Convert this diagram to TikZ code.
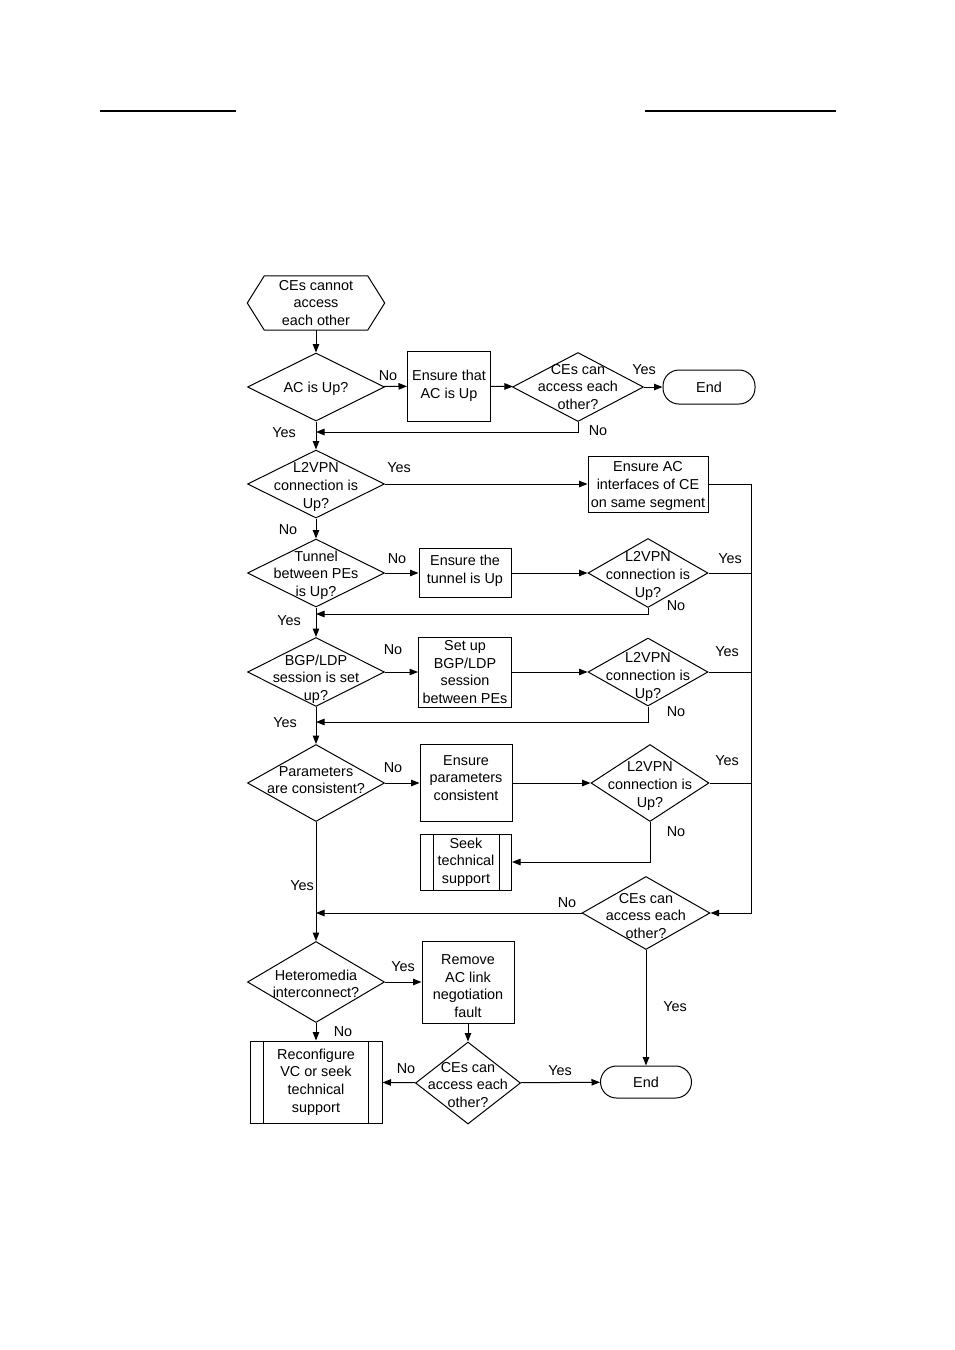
\documentclass[tikz,border=0pt]{standalone}
\usepackage{fontspec}
\setmainfont{Liberation Sans}
\usetikzlibrary{shapes.geometric,arrows.meta}

\begin{document}
\begin{tikzpicture}[x=1pt,y=-1pt]
		\tikzstyle{every node}=[font=\fontsize{14.4pt}{17.6pt}\selectfont]
		\tikzstyle{box}=[draw, line width=1pt, rectangle, inner sep=0pt, align=center]
		\tikzstyle{decision}=[draw, line width=1pt, diamond, inner sep=0pt]
		\tikzstyle{terminal}=[draw, line width=1pt, rectangle, rounded corners=16pt, inner sep=0pt]
		\tikzstyle{txt}=[inner sep=0pt, align=center]
		\tikzstyle{lbl}=[inner sep=0pt]
		\tikzstyle{flow}=[line width=1pt, -{Triangle[length=8.5pt,width=6.5pt]}]
		\tikzstyle{link}=[line width=1pt]
		
		\useasboundingbox (0,0) rectangle (954,1350);
		
		% page rules
		\draw[line width=1.2pt] (100,111) -- (236,111);
		\draw[line width=1.2pt] (645,111) -- (836,111);
		
		% start
		\node[txt, minimum width=137pt, minimum height=54pt] (start) at (316,303) {CEs cannot\\access\\each other};
		\draw[link] (start.west) -- ([xshift=17pt]start.north west) -- ([xshift=-17pt]start.north east) -- (start.east)
		-- ([xshift=-17pt]start.south east) -- ([xshift=17pt]start.south west) -- cycle;
		
		% row 1
		\node[decision, minimum width=137pt, minimum height=68pt] (acup) at (316,387) {};
		\node[txt] (acup-t) at ([yshift=-2pt]acup.center) {AC is Up?};
		\node[box, minimum width=83pt, minimum height=70pt] (ensac) at (449,386) {Ensure that\\AC is Up};
		\node[decision, minimum width=131pt, minimum height=69pt] (ceok1) at (578,387) {};
		\node[txt] (ceok1-t) at (ceok1) {CEs can\\access each\\other?};
		\node[terminal, minimum width=92pt, minimum height=34pt] (end1) at (709,387) {End};
		
		% row 2
		\node[decision, minimum width=137pt, minimum height=68pt] (l2a) at (316,484) {};
		\node[txt] (l2a-t) at ([yshift=-3pt]l2a.center) {L2VPN\\connection is\\Up?};
		\node[box, minimum width=120pt, minimum height=56pt] (ensseg) at (648,484) {};
		\node[txt] (ensseg-t) at ([yshift=-2pt]ensseg.center) {Ensure AC\\interfaces of CE\\on same segment};
		
		% row 3
		\node[decision, minimum width=137pt, minimum height=68pt] (tun) at (316,573) {};
		\node[txt] (tun-t) at ([yshift=-2pt]tun.center) {Tunnel\\between PEs\\is Up?};
		\node[box, minimum width=92pt, minimum height=49pt] (enstun) at (465,573) {};
		\node[txt] (enstun-t) at ([yshift=2pt]enstun.center) {Ensure the\\tunnel is Up};
		\node[decision, minimum width=120pt, minimum height=69pt] (l2b) at (648,573) {};
		\node[txt] (l2b-t) at ([yshift=-3pt]l2b.center) {L2VPN\\connection is\\Up?};
		
		% row 4
		\node[decision, minimum width=137pt, minimum height=69pt] (bgp) at (316,672) {};
		\node[txt] (bgp-t) at ([yshift=-7pt]bgp.center) {BGP/LDP\\session is set\\up?};
		\node[box, minimum width=93pt, minimum height=70pt] (setup) at (465,672) {Set up\\BGP/LDP\\session\\between PEs};
		\node[decision, minimum width=120pt, minimum height=68pt] (l2c) at (648,672) {};
		\node[txt] (l2c-t) at ([yshift=-5pt]l2c.center) {L2VPN\\connection is\\Up?};
		
		% row 5
		\node[decision, minimum width=137pt, minimum height=77pt] (par) at (316,783) {};
		\node[txt] (par-t) at ([yshift=3pt]par.center) {Parameters\\are consistent?};
		\node[box, minimum width=92pt, minimum height=77pt] (enspar) at (466,783) {};
		\node[txt] (enspar-t) at ([yshift=5pt]enspar.center) {Ensure\\parameters\\consistent};
		\node[decision, minimum width=118pt, minimum height=77pt] (l2d) at (650,783) {};
		\node[txt] (l2d-t) at ([yshift=-3pt]l2d.center) {L2VPN\\connection is\\Up?};
		
		\node[box, minimum width=91pt, minimum height=56pt] (seek) at (466,862) {Seek\\technical\\support};
		\draw[link] ([xshift=13pt]seek.north west) -- ([xshift=13pt]seek.south west);
		\draw[link] ([xshift=-13pt]seek.north east) -- ([xshift=-13pt]seek.south east);
		
		\node[decision, minimum width=128pt, minimum height=73pt] (ceok2) at (646,913) {};
		\node[txt] (ceok2-t) at ([yshift=-3pt]ceok2.center) {CEs can\\access each\\other?};
		
		% bottom
		\node[decision, minimum width=137pt, minimum height=81pt] (het) at (316,982) {};
		\node[txt] (het-t) at ([yshift=-2pt]het.center) {Heteromedia\\interconnect?};
		\node[box, minimum width=92pt, minimum height=82pt] (remove) at (468,982) {};
		\node[txt] (remove-t) at ([yshift=-4pt]remove.center) {Remove\\AC link\\negotiation\\fault};
		\node[box, minimum width=132pt, minimum height=82pt] (recon) at (316,1082) {};
		\node[txt] (recon-t) at (recon) {Reconfigure\\VC or seek\\technical\\support};
		\draw[link] ([xshift=14pt]recon.north west) -- ([xshift=14pt]recon.south west);
		\draw[link] ([xshift=-14pt]recon.north east) -- ([xshift=-14pt]recon.south east);
		\node[decision, minimum width=105pt, minimum height=82pt] (ceok3) at (468,1083) {};
		\node[txt] (ceok3-t) at ([yshift=-2pt]ceok3.center) {CEs can\\access each\\other?};
		\node[terminal, minimum width=91pt, minimum height=32pt] (end2) at (646,1082) {End};
		
		% junctions on the main column and the right rail
		\coordinate (j1) at (316,432);
		\coordinate (j2) at (316,614);
		\coordinate (j3) at (316,722);
		\coordinate (j4) at (316,913);
		\coordinate (rail) at (751,484);
		
		% connectors
		\draw[flow] (start) -- (acup);
		\draw[flow] (acup) -- (ensac);
		\draw[flow] (ensac) -- (ceok1);
		\draw[flow] (ceok1) -- (end1);
		\draw[flow] (ceok1.south) |- (j1);
		\draw[flow] (acup) -- (l2a);
		
		\draw[flow] (l2a) -- (ensseg);
		\draw[flow] (ensseg.east) -- (rail) |- (ceok2.east);
		\draw[flow] (l2a) -- (tun);
		
		\draw[flow] (tun) -- (enstun);
		\draw[flow] (enstun) -- (l2b);
		\draw[link] (l2b.east) -- (l2b.east -| rail);
		\draw[flow] (l2b.south) |- (j2);
		\draw[flow] (tun) -- (bgp);
		
		\draw[flow] (bgp) -- (setup);
		\draw[flow] (setup) -- (l2c);
		\draw[link] (l2c.east) -- (l2c.east -| rail);
		\draw[flow] (l2c.south) |- (j3);
		\draw[flow] (bgp) -- (par);
		
		\draw[flow] (par) -- (enspar);
		\draw[flow] (enspar) -- (l2d);
		\draw[link] (l2d.east) -- (l2d.east -| rail);
		\draw[flow] (l2d.south) |- (seek.east);
		\draw[flow] (par) -- (het);
		
		\draw[flow] (ceok2.west) -- (j4);
		\draw[flow] (ceok2) -- (end2);
		
		\draw[flow] (het) -- (remove);
		\draw[flow] (het) -- (recon);
		\draw[flow] (remove) -- (ceok3);
		\draw[flow] (ceok3) -- (recon);
		\draw[flow] (ceok3) -- (end2);
		
		% branch labels
		\node[lbl] (n1) at (388,376) {No};
		\node[lbl] (y1) at (644,370) {Yes};
		\node[lbl] (y2) at (284,433) {Yes};
		\node[lbl] (n2) at (598,431) {No};
		\node[lbl] (y3) at (399,468) {Yes};
		\node[lbl] (n3) at (288,530) {No};
		\node[lbl] (n4) at (397,559) {No};
		\node[lbl] (y4) at (730,559) {Yes};
		\node[lbl] (n5) at (676,606) {No};
		\node[lbl] (y5) at (289,621) {Yes};
		\node[lbl] (n6) at (393,650) {No};
		\node[lbl] (y6) at (727,652) {Yes};
		\node[lbl] (n7) at (676,712) {No};
		\node[lbl] (y7) at (285,723) {Yes};
		\node[lbl] (n8) at (393,768) {No};
		\node[lbl] (y8) at (727,761) {Yes};
		\node[lbl] (n9) at (676,832) {No};
		\node[lbl] (y9) at (302,886) {Yes};
		\node[lbl] (n10) at (567,903) {No};
		\node[lbl] (y10) at (403,967) {Yes};
		\node[lbl] (n11) at (343,1032) {No};
		\node[lbl] (y11) at (675,1007) {Yes};
		\node[lbl] (n12) at (406,1069) {No};
		\node[lbl] (y12) at (560,1071) {Yes};
		
	\end{tikzpicture}
\end{document}
